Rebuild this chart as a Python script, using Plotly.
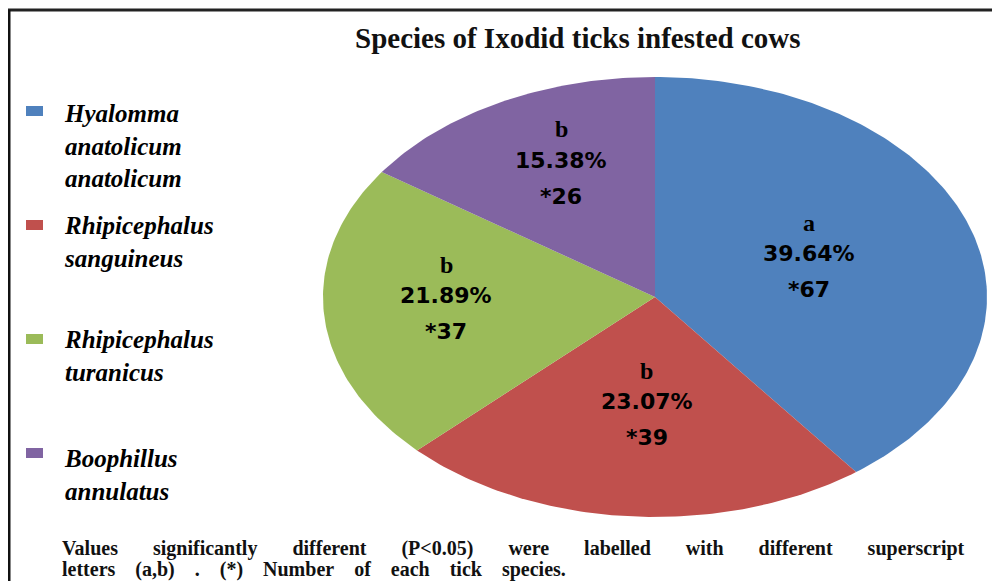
import numpy as np
import plotly.graph_objects as go

# ---- data ----
species = ["Hyalomma anatolicum anatolicum", "Rhipicephalus sanguineus",
           "Rhipicephalus turanicus", "Boophillus annulatus"]
legend_labels = ["Hyalomma<br>anatolicum<br>anatolicum", "Rhipicephalus<br>sanguineus",
                 "Rhipicephalus<br>turanicus", "Boophillus<br>annulatus"]
counts = [67, 39, 37, 26]
percent_labels = ["39.64%", "23.07%", "21.89%", "15.38%"]
letters = ["a", "b", "b", "b"]
colors = ["#4F81BD", "#C0504D", "#9BBB59", "#8064A2"]

# the page body has an 8px margin, so the figure starts at (8, 8)
OFF = 8
W, H = 1000 - OFF, 581 - OFF
def px(x):
    return (x - OFF) / W
def py(y):
    return 1 - (y - OFF) / H

fig = go.Figure()

# pie wedges (clockwise from 12 o'clock), drawn in a [-1,1] x [-1,1] data space
total = sum(counts)
start = 0.0
label_r = [0.50, 0.49, 0.64, 0.66]
label_nudge_y = [8, 3, 13, 8]
label_nudge_x = [-3, 4, 3, 8]
mids = []
for i, c in enumerate(counts):
    frac = c / total
    a0, a1 = start * 2 * np.pi, (start + frac) * 2 * np.pi
    t = np.linspace(a0, a1, max(int(frac * 400), 20))
    xs = np.concatenate([[0], np.sin(t), [0]])
    ys = np.concatenate([[0], np.cos(t), [0]])
    fig.add_trace(go.Scatter(x=xs, y=ys, mode="lines", fill="toself",
                             fillcolor=colors[i], line=dict(width=0, color=colors[i]),
                             hoverinfo="text", text=species[i], showlegend=False))
    mids.append((start + frac / 2) * 2 * np.pi)
    start += frac

ann = []
for i in range(len(counts)):
    mx = label_r[i] * np.sin(mids[i])
    my = label_r[i] * np.cos(mids[i])
    common = dict(x=mx, y=my, xref="x", yref="y", showarrow=False,
                  xanchor="center", yanchor="middle", xshift=label_nudge_x[i])
    dy = label_nudge_y[i]
    ann.append(dict(common, text=letters[i], yshift=31 + dy,
                    font=dict(family="Liberation Serif", size=24, color="black", weight="bold")))
    ann.append(dict(common, text=percent_labels[i], yshift=dy,
                    font=dict(family="DejaVu Sans", size=22, color="black", weight="bold")))
    ann.append(dict(common, text="*" + str(counts[i]), yshift=-36 + dy,
                    font=dict(family="DejaVu Sans", size=22, color="black", weight="bold")))

# legend (manual)
legend_centers = [146, 242, 356, 475]
marker_centers = [111, 225, 339, 453]
shapes = []
for i in range(len(counts)):
    shapes.append(dict(type="rect", xref="paper", yref="paper",
                       x0=px(26), x1=px(43), y0=py(marker_centers[i] + 5), y1=py(marker_centers[i] - 5),
                       fillcolor=colors[i], line=dict(width=0)))
    ann.append(dict(x=px(62), y=py(legend_centers[i]), xref="paper", yref="paper",
                    xanchor="left", yanchor="middle", align="left", showarrow=False,
                    text=legend_labels[i],
                    font=dict(family="Liberation Serif", size=25, color="black",
                              weight="bold", style="italic")))

# title
ann.append(dict(x=px(577), y=py(38), xref="paper", yref="paper", showarrow=False,
                xanchor="center", yanchor="middle",
                text="Species of Ixodid ticks infested cows",
                font=dict(family="Liberation Serif", size=29, color="#111", weight="bold")))

# footnote
sp = "\u00a0"
line1 = (sp * 7).join(["Values", "significantly", "different", "(P<0.05)", "were", "labelled",
                       "with", "different", "superscript"])
line2 = (sp * 4).join(["letters", "(a,b)", ".", "(*)", "Number", "of", "each", "tick", "species."])
ann.append(dict(x=px(60), y=py(548), xref="paper", yref="paper", xanchor="left", yanchor="middle",
                showarrow=False, text=line1,
                font=dict(family="Liberation Serif", size=20, color="#111", weight="bold")))
ann.append(dict(x=px(60), y=py(569), xref="paper", yref="paper", xanchor="left", yanchor="middle",
                showarrow=False, text=line2,
                font=dict(family="Liberation Serif", size=20, color="#111", weight="bold")))

# frame lines
shapes.append(dict(type="line", xref="paper", yref="paper", x0=px(8), x1=1, y0=py(10), y1=py(10),
                   line=dict(color="#222", width=3)))
shapes.append(dict(type="line", xref="paper", yref="paper", x0=px(9), x1=px(9), y0=py(10), y1=0,
                   line=dict(color="#111", width=3)))

fig.update_layout(
    width=W, height=H, margin=dict(l=0, r=0, t=0, b=0),
    paper_bgcolor="white", plot_bgcolor="white",
    xaxis=dict(domain=[px(323), px(987)], range=[-1, 1], visible=False, fixedrange=True),
    yaxis=dict(domain=[py(517), py(77)], range=[-1, 1], visible=False, fixedrange=True),
    annotations=ann, shapes=shapes, showlegend=False,
)

fig.write_html("out.html")
